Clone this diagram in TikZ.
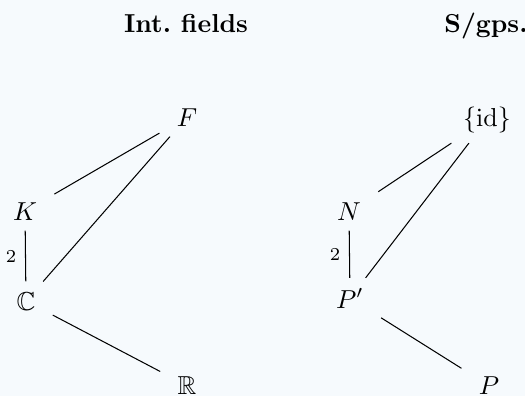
\documentclass[tikz,border=0pt]{standalone}
\usepackage{amssymb}
\definecolor{bgc}{RGB}{246,250,253}
\begin{document}
\begin{tikzpicture}[x=0.385pt,y=-0.385pt,
  obj/.style={anchor=base, inner xsep=6.5pt, inner ysep=3.9pt},
  ttl/.style={anchor=base, font=\bfseries},
  lbl/.style={left, font=\scriptsize},
  conn/.style={line width=0.4pt}]
\fill[bgc] (0,0) rectangle (525,396);
\useasboundingbox (0,0) rectangle (525,396);
% titles
\node[ttl] (t1) at (186,32) {Int.\ fields};
\node[ttl] (t2) at (486,32) {S/gps.};
% left lattice
\node[obj] (F) at (187,126) {$F$};
\node[obj] (K) at (25,220) {$K$};
\node[obj] (C) at (26,310) {$\mathbb{C}$};
\node[obj] (R) at (187,394.5) {$\mathbb{R}$};
% right lattice
\node[obj] (id) at (487,126) {$\{\mathrm{id}\}$};
\node[obj] (N) at (349,220) {$N$};
\node[obj] (Pp) at (350,308) {$P'$};
\node[obj] (P) at (489,394.5) {$P$};
% connectors
\draw[conn] (K) -- (F);
\draw[conn] (C) -- (F);
\draw[conn] (K) -- node[lbl] {2} (C);
\draw[conn] (C) -- (R);
\draw[conn] (N) -- (id);
\draw[conn] (Pp) -- (id);
\draw[conn] (N) -- node[lbl] {2} (Pp);
\draw[conn] (Pp) -- (P);
\end{tikzpicture}
\end{document}
